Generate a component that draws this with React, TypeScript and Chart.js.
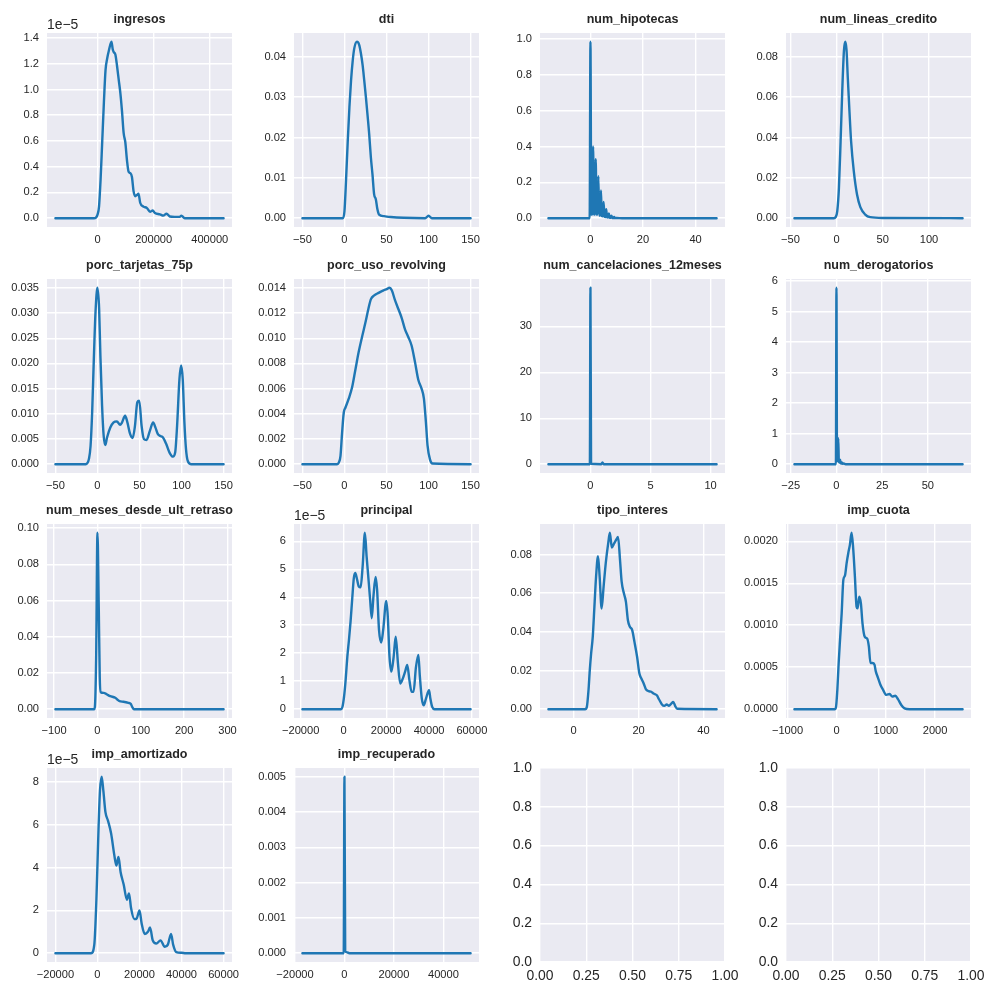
import React, { useEffect, useRef } from "react";
import { Chart, registerables } from "chart.js";

Chart.register(...registerables);

const FONT = "'Liberation Sans', Arial, Helvetica, sans-serif";
const TEXT = "#262626";
const LINE = "#1f77b4";
const BG = "#eaeaf2";

// ---------- data (KDE curves) ----------
const ingresosX = [-150600, -13000, -6000, 0, 5000, 10600, 16500, 22400, 28200, 34100, 40000, 49400, 54000, 57600, 63500, 69400, 75000, 81200, 87000, 92900, 98800, 104700, 110600, 116500, 122400, 128200, 134100, 140000, 145900, 151800, 163500, 175300, 187100, 196500, 204700, 222400, 234100, 245900, 257600, 275300, 292900, 298800, 310600, 449400];
const ingresosY = [0, 0, 0.005, 0.03, 0.09, 0.3, 0.6, 0.9, 1.15, 1.24, 1.3, 1.37, 1.31, 1.29, 1.27, 1.18, 1.08, 0.97, 0.83, 0.66, 0.59, 0.45, 0.36, 0.35, 0.32, 0.21, 0.17, 0.18, 0.19, 0.12, 0.09, 0.08, 0.05, 0.06, 0.04, 0.03, 0.02, 0.035, 0.013, 0.01, 0.01, 0.02, 0, 0];

const dtiX = [-50, -2, 0, 2, 3.9, 5.9, 7.8, 9.8, 11.8, 14.9, 17.6, 19.6, 21.6, 23.5, 25.5, 27.5, 29.4, 31.4, 33.3, 35.3, 37.3, 39.2, 41.2, 47, 55, 70.6, 96, 100, 104, 150];
const dtiY = [0, 0, 0.0017, 0.01, 0.019, 0.0275, 0.034, 0.039, 0.0422, 0.0437, 0.0429, 0.0408, 0.0379, 0.0342, 0.03, 0.0254, 0.0209, 0.0151, 0.0109, 0.0059, 0.0047, 0.0022, 0.0009, 0.0005, 0.0003, 0.0001, 0, 0.0006, 0, 0];

const hipotecasX = [-16, -0.3, 0, 0.3, 0.7, 1, 1.3, 1.7, 2, 2.3, 2.7, 3, 3.3, 3.7, 4, 4.3, 4.7, 5, 5.3, 5.7, 6, 6.3, 6.7, 7, 7.3, 7.7, 8, 8.3, 8.7, 9, 9.3, 10, 12, 48];
const hipotecasY = [0, 0, 0.985, 0.02, 0.02, 0.4, 0.025, 0.02, 0.33, 0.02, 0.02, 0.235, 0.015, 0.015, 0.155, 0.012, 0.01, 0.09, 0.008, 0.007, 0.05, 0.005, 0.004, 0.027, 0.003, 0.002, 0.014, 0.002, 0.001, 0.007, 0.001, 0.001, 0, 0];

const lineasX = [-45.7, -2.9, -1.1, 0.7, 2.5, 4.3, 6.1, 7.9, 9.3, 10.7, 12.1, 13.9, 15.7, 18.6, 22.1, 25.7, 31, 36.4, 50.7, 136.4];
const lineasY = [0, 0, 0.0005, 0.0035, 0.015, 0.038, 0.063, 0.0828, 0.0874, 0.0836, 0.0696, 0.053, 0.038, 0.0233, 0.0117, 0.0055, 0.0018, 0.0005, 0.0001, 0];

const tarjetasX = [-50, -14, -12.1, -10.2, -8.2, -6.3, -4.3, -2.3, 0, 2, 3.5, 5.5, 7.4, 9.4, 11.4, 15.3, 19.2, 23.1, 27, 29, 32.9, 35.6, 38.8, 41.9, 44.6, 47.4, 49.7, 52.5, 55.2, 58.3, 62.3, 66.2, 68.9, 71.7, 74.8, 77.9, 81.8, 85.7, 89.7, 92.4, 94.7, 97.5, 99.5, 101.4, 103.4, 105.3, 107.3, 111.2, 150];
const tarjetasY = [0, 0, 0.0002, 0.001, 0.0036, 0.0103, 0.0209, 0.0302, 0.035, 0.0308, 0.0215, 0.0116, 0.0056, 0.0038, 0.0053, 0.0073, 0.0083, 0.0085, 0.0078, 0.0082, 0.0096, 0.0083, 0.006, 0.0052, 0.0076, 0.0123, 0.0126, 0.0076, 0.005, 0.0048, 0.0066, 0.0083, 0.0073, 0.006, 0.0056, 0.0053, 0.004, 0.0023, 0.0015, 0.0023, 0.0076, 0.0169, 0.0196, 0.0169, 0.0083, 0.003, 0.0007, 0, 0];

const revolvingX = [-50, -8.7, -6.7, -4.7, -2.8, -0.8, 1.2, 5.1, 9.1, 13, 16.9, 20.9, 24.8, 28.7, 31.5, 35.4, 40.6, 46.5, 50.4, 53.5, 56.3, 60.2, 64.2, 68.1, 72, 75.9, 79.9, 83.9, 87.8, 91.7, 94.5, 96.9, 98.8, 101.6, 104.7, 150];
const revolvingY = [0, 0, 0.00013, 0.00066, 0.0025, 0.0041, 0.0045, 0.0052, 0.0061, 0.0075, 0.0089, 0.0101, 0.0112, 0.0124, 0.0131, 0.0134, 0.0136, 0.0138, 0.0139, 0.014, 0.0138, 0.013, 0.0123, 0.0116, 0.0107, 0.0101, 0.0094, 0.0081, 0.0067, 0.006, 0.0052, 0.0033, 0.0015, 0.0004, 0.00005, 0];

const cancelacionesX = [-3.5, -0.05, 0, 0.05, 0.9, 1, 1.1, 10.5];
const cancelacionesY = [0, 0, 38.4, 0.1, 0, 0.4, 0, 0];

const derogatoriosX = [-23, -0.3, 0, 0.3, 0.7, 1, 1.3, 1.7, 2, 2.3, 2.7, 3, 3.4, 4, 5, 69];
const derogatoriosY = [0, 0, 5.78, 0.1, 0.1, 0.85, 0.08, 0.05, 0.15, 0.03, 0.02, 0.06, 0.01, 0.02, 0, 0];

const retrasoX = [-97, -7.6, -6, -3, 0, 3, 5.3, 7.6, 14.4, 22, 29.6, 41, 46.3, 50.9, 60, 71.4, 76.7, 80.5, 84.3, 291];
const retrasoY = [0, 0, 0.0011, 0.0287, 0.0974, 0.0564, 0.0177, 0.0094, 0.009, 0.0081, 0.0072, 0.0063, 0.0052, 0.0044, 0.0041, 0.0035, 0.003, 0.0011, 0, 0];

const principalX = [-19200, -1300, -500, 250, 1000, 1800, 2550, 3300, 4050, 4830, 5500, 6350, 7100, 8000, 8950, 10000, 10800, 11700, 12450, 13200, 14000, 15000, 15700, 16600, 17650, 18550, 20000, 20700, 21500, 22400, 23450, 24400, 25450, 26500, 27750, 28800, 29800, 30800, 31850, 32750, 33850, 35000, 35700, 36600, 37500, 38550, 40000, 40600, 41450, 42550, 59400];
const principalY = [0, 0, 0.08, 0.44, 1.04, 1.88, 2.47, 3.13, 3.91, 4.68, 4.87, 4.63, 4.39, 4.35, 5.1, 6.3, 5.46, 4.63, 3.91, 3.25, 4.03, 4.72, 4.27, 2.83, 2.38, 2.83, 3.87, 3.31, 1.88, 1.34, 1.88, 2.59, 1.64, 0.92, 1.1, 1.34, 1.58, 1.04, 0.62, 0.62, 1.49, 1.94, 1.16, 0.38, 0.14, 0.38, 0.68, 0.38, 0.08, 0, 0];

const interesX = [-7.8, 3.5, 4.05, 4.56, 4.96, 5.37, 5.87, 6.38, 6.89, 7.49, 8.0, 8.61, 9.21, 9.92, 10.63, 11.14, 11.75, 12.46, 13.16, 13.67, 14.28, 14.78, 15.49, 16.1, 16.71, 17.32, 18.03, 18.73, 19.54, 20.25, 20.86, 21.57, 22.28, 23.09, 23.9, 24.61, 25.62, 26.33, 27.14, 27.95, 28.66, 29.37, 30.08, 30.68, 31.29, 31.9, 44.05];
const interesY = [0, 0, 0.0012, 0.0098, 0.0202, 0.0288, 0.0374, 0.0529, 0.0684, 0.0791, 0.0684, 0.0521, 0.0633, 0.0762, 0.0857, 0.0912, 0.0836, 0.0857, 0.0878, 0.0891, 0.0771, 0.0659, 0.0598, 0.0555, 0.046, 0.0426, 0.0409, 0.0348, 0.0271, 0.0184, 0.0159, 0.0133, 0.0102, 0.0093, 0.009, 0.0081, 0.0072, 0.005, 0.0026, 0.0017, 0.0024, 0.0017, 0.0029, 0.0038, 0.0016, 0.0002, 0];

const cuotaX = [-860, -34, -13, 13, 40, 67, 101, 135, 168, 202, 236, 269, 303, 337, 370, 404, 424, 458, 492, 525, 572, 620, 653, 687, 727, 768, 795, 842, 889, 943, 1010, 1077, 1131, 1192, 1246, 1313, 1380, 1481, 2560];
const cuotaY = [0, 0, 0.00003, 0.00023, 0.00055, 0.00082, 0.00114, 0.00154, 0.00159, 0.00174, 0.00186, 0.00196, 0.0021, 0.0019, 0.00158, 0.00122, 0.0012, 0.00134, 0.00126, 0.00102, 0.00086, 0.00084, 0.00075, 0.00055, 0.00055, 0.00053, 0.00045, 0.00037, 0.00029, 0.00023, 0.00017, 0.00018, 0.00015, 0.00016, 0.00012, 0.00005, 0.00001, 0, 0];

const amortizadoX = [-20000, -3000, -1500, -500, 500, 1200, 2000, 2800, 3800, 5000, 6500, 8000, 9000, 10000, 11000, 12500, 14000, 15000, 16000, 17500, 18500, 20000, 21000, 22500, 24000, 25000, 26300, 28000, 30000, 32000, 33500, 35000, 36000, 37500, 40000, 42000, 60000];
const amortizadoY = [0, 0, 0.4, 2.5, 5.8, 7.6, 8.25, 7.6, 6.6, 6.2, 5.6, 4.6, 4.1, 4.5, 3.8, 3.2, 2.5, 2.8, 2.1, 1.6, 1.6, 2.0, 1.4, 0.9, 1.0, 1.2, 0.6, 0.45, 0.6, 0.3, 0.4, 0.9, 0.4, 0.05, 0.02, 0, 0];

const recuperadoX = [-17000, -300, 0, 300, 800, 2000, 51000];
const recuperadoY = [0, 0, 0.005, 0.00006, 0.00003, 0, 0];

// ---------- tick values ----------
const ticksXIngresos = [0, 200000, 400000];
const ticksYIngresos = [0, 0.2, 0.4, 0.6, 0.8, 1.0, 1.2, 1.4];
const ticksXDti = [-50, 0, 50, 100, 150];
const ticksYDti = [0, 0.01, 0.02, 0.03, 0.04];
const ticksXHipotecas = [0, 20, 40];
const ticksYHipotecas = [0, 0.2, 0.4, 0.6, 0.8, 1.0];
const ticksXLineas = [-50, 0, 50, 100];
const ticksYLineas = [0, 0.02, 0.04, 0.06, 0.08];
const ticksXPorc = [-50, 0, 50, 100, 150];
const ticksYTarjetas = [0, 0.005, 0.01, 0.015, 0.02, 0.025, 0.03, 0.035];
const ticksYRevolving = [0, 0.002, 0.004, 0.006, 0.008, 0.01, 0.012, 0.014];
const ticksXCancel = [0, 5, 10];
const ticksYCancel = [0, 10, 20, 30];
const ticksXDerog = [-25, 0, 25, 50];
const ticksYDerog = [0, 1, 2, 3, 4, 5, 6];
const ticksXRetraso = [-100, 0, 100, 200, 300];
const ticksYRetraso = [0, 0.02, 0.04, 0.06, 0.08, 0.1];
const ticksXPrincipal = [-20000, 0, 20000, 40000, 60000];
const ticksYPrincipal = [0, 1, 2, 3, 4, 5, 6];
const ticksXInteres = [0, 20, 40];
const ticksYInteres = [0, 0.02, 0.04, 0.06, 0.08];
const ticksXCuota = [-1000, 0, 1000, 2000];
const ticksYCuota = [0, 0.0005, 0.001, 0.0015, 0.002];
const ticksXAmort = [-20000, 0, 20000, 40000, 60000];
const ticksYAmort = [0, 2, 4, 6, 8];
const ticksXRecup = [-20000, 0, 20000, 40000];
const ticksYRecup = [0, 0.001, 0.002, 0.003, 0.004, 0.005];
const ticksXEmpty = [0, 0.25, 0.5, 0.75, 1];
const ticksYEmpty = [0, 0.2, 0.4, 0.6, 0.8, 1.0];

type Panel = {
  title: string;
  xs: number[];
  ys: number[];
  xTicks: number[];
  xDec: number;
  yTicks: number[];
  yDec: number;
  offset?: string;
  empty?: boolean;
};

const panels: Panel[] = [
  { title: "ingresos", xs: ingresosX, ys: ingresosY, xTicks: ticksXIngresos, xDec: 0, yTicks: ticksYIngresos, yDec: 1, offset: "1e\u22125" },
  { title: "dti", xs: dtiX, ys: dtiY, xTicks: ticksXDti, xDec: 0, yTicks: ticksYDti, yDec: 2 },
  { title: "num_hipotecas", xs: hipotecasX, ys: hipotecasY, xTicks: ticksXHipotecas, xDec: 0, yTicks: ticksYHipotecas, yDec: 1 },
  { title: "num_lineas_credito", xs: lineasX, ys: lineasY, xTicks: ticksXLineas, xDec: 0, yTicks: ticksYLineas, yDec: 2 },
  { title: "porc_tarjetas_75p", xs: tarjetasX, ys: tarjetasY, xTicks: ticksXPorc, xDec: 0, yTicks: ticksYTarjetas, yDec: 3 },
  { title: "porc_uso_revolving", xs: revolvingX, ys: revolvingY, xTicks: ticksXPorc, xDec: 0, yTicks: ticksYRevolving, yDec: 3 },
  { title: "num_cancelaciones_12meses", xs: cancelacionesX, ys: cancelacionesY, xTicks: ticksXCancel, xDec: 0, yTicks: ticksYCancel, yDec: 0 },
  { title: "num_derogatorios", xs: derogatoriosX, ys: derogatoriosY, xTicks: ticksXDerog, xDec: 0, yTicks: ticksYDerog, yDec: 0 },
  { title: "num_meses_desde_ult_retraso", xs: retrasoX, ys: retrasoY, xTicks: ticksXRetraso, xDec: 0, yTicks: ticksYRetraso, yDec: 2 },
  { title: "principal", xs: principalX, ys: principalY, xTicks: ticksXPrincipal, xDec: 0, yTicks: ticksYPrincipal, yDec: 0, offset: "1e\u22125" },
  { title: "tipo_interes", xs: interesX, ys: interesY, xTicks: ticksXInteres, xDec: 0, yTicks: ticksYInteres, yDec: 2 },
  { title: "imp_cuota", xs: cuotaX, ys: cuotaY, xTicks: ticksXCuota, xDec: 0, yTicks: ticksYCuota, yDec: 4 },
  { title: "imp_amortizado", xs: amortizadoX, ys: amortizadoY, xTicks: ticksXAmort, xDec: 0, yTicks: ticksYAmort, yDec: 0, offset: "1e\u22125" },
  { title: "imp_recuperado", xs: recuperadoX, ys: recuperadoY, xTicks: ticksXRecup, xDec: 0, yTicks: ticksYRecup, yDec: 3 },
  { title: "", xs: [], ys: [], xTicks: ticksXEmpty, xDec: 2, yTicks: ticksYEmpty, yDec: 1, empty: true },
  { title: "", xs: [], ys: [], xTicks: ticksXEmpty, xDec: 2, yTicks: ticksYEmpty, yDec: 1, empty: true },
];

// ---------- layout ----------
const COL_LEFT = [47, 294, 540, 786];
const ROW_TOP = [33, 279, 524, 768];
const PLOT_W = 185;
const PLOT_H = 194;
const Y_W = 47;
const R_PAD = 30;
const T_H = 33;
const X_H = 25;
const CANVAS_W = Y_W + PLOT_W + R_PAD;
const CANVAS_H = T_H + PLOT_H + X_H;

function fmt(v: number, d: number): string {
  const s = Math.abs(v).toFixed(d);
  return (v < -1e-12 ? "\u2212" : "") + s;
}

function PanelChart({ p, left, top }: { p: Panel; left: number; top: number }) {
  const ref = useRef<HTMLCanvasElement | null>(null);

  useEffect(() => {
    const canvas = ref.current;
    if (!canvas) return;
    let xMin = 0, xMax = 1, yMin = 0, yMax = 1;
    if (!p.empty) {
      const x0 = Math.min(...p.xs);
      const x1 = Math.max(...p.xs);
      const y0 = Math.min(0, ...p.ys);
      const y1 = Math.max(...p.ys);
      const dx = (x1 - x0) * 0.05;
      const dy = (y1 - y0) * 0.05;
      xMin = x0 - dx;
      xMax = x1 + dx;
      yMin = y0 - dy;
      yMax = y1 + dy;
    }
    const tickSize = p.empty ? 13.9 : 11.1;

    const decor = {
      id: "decor",
      beforeDraw(chart: any) {
        const { ctx, chartArea } = chart;
        ctx.save();
        ctx.fillStyle = BG;
        ctx.fillRect(chartArea.left, chartArea.top, chartArea.right - chartArea.left, chartArea.bottom - chartArea.top);
        ctx.restore();
      },
      afterDraw(chart: any) {
        const { ctx, chartArea } = chart;
        ctx.save();
        if (p.title) {
          ctx.font = `bold 12.5px ${FONT}`;
          ctx.fillStyle = TEXT;
          ctx.textAlign = "center";
          ctx.textBaseline = "alphabetic";
          ctx.fillText(p.title, (chartArea.left + chartArea.right) / 2, chartArea.top - 9.7);
        }
        if (p.offset) {
          ctx.font = `13.9px ${FONT}`;
          ctx.fillStyle = TEXT;
          ctx.textAlign = "left";
          ctx.textBaseline = "alphabetic";
          ctx.fillText(p.offset, chartArea.left, chartArea.top - 3.7);
        }
        ctx.restore();
      },
    };

    const chart = new Chart(canvas, {
      type: "line",
      data: {
        datasets: p.empty
          ? []
          : [
              {
                data: p.xs.map((x, i) => ({ x, y: p.ys[i] })),
                borderColor: LINE,
                backgroundColor: LINE,
                borderWidth: 2.4,
                pointRadius: 0,
                cubicInterpolationMode: "monotone",
                borderJoinStyle: "round",
                borderCapStyle: "round",
                fill: false,
              },
            ],
      },
      options: {
        responsive: false,
        animation: false,
        events: [],
        layout: { padding: { left: 0, right: R_PAD, top: T_H, bottom: 0 } },
        plugins: {
          legend: { display: false },
          tooltip: { enabled: false },
          title: { display: false },
        },
        scales: {
          x: {
            type: "linear",
            min: xMin,
            max: xMax,
            grid: { color: "#ffffff", lineWidth: 1.4, drawTicks: false, tickLength: 0 },
            border: { display: false },
            ticks: {
              color: TEXT,
              font: { family: FONT, size: tickSize },
              padding: 6,
              maxRotation: 0,
              minRotation: 0,
              autoSkip: false,
              callback: (v: any) => fmt(Number(v), p.xDec),
            },
            afterBuildTicks: (s: any) => {
              s.ticks = p.xTicks.map((v) => ({ value: v }));
            },
            afterFit: (s: any) => {
              s.height = X_H;
              s.paddingLeft = 0;
              s.paddingRight = 0;
              s.paddingTop = 0;
              s.paddingBottom = 0;
            },
          },
          y: {
            type: "linear",
            min: yMin,
            max: yMax,
            grid: { color: "#ffffff", lineWidth: 1.4, drawTicks: false, tickLength: 0 },
            border: { display: false },
            ticks: {
              color: TEXT,
              font: { family: FONT, size: tickSize },
              padding: 8,
              autoSkip: false,
              callback: (v: any) => fmt(Number(v), p.yDec),
            },
            afterBuildTicks: (s: any) => {
              s.ticks = p.yTicks.map((v) => ({ value: v }));
            },
            afterFit: (s: any) => {
              s.width = Y_W;
              s.paddingLeft = 0;
              s.paddingRight = 0;
              s.paddingTop = 0;
              s.paddingBottom = 0;
            },
          },
        },
      } as any,
      plugins: [decor],
    } as any);

    return () => {
      chart.destroy();
    };
  }, [p]);

  return (
    <canvas
      ref={ref}
      width={CANVAS_W}
      height={CANVAS_H}
      style={{ position: "absolute", left, top, width: CANVAS_W, height: CANVAS_H }}
    />
  );
}

export default function App() {
  return (
    <div
      style={{
        position: "absolute",
        left: 0,
        top: 0,
        width: 1000,
        height: 1000,
        overflow: "hidden",
        background: "#ffffff",
      }}
    >
      {panels.map((p, i) => {
        const r = Math.floor(i / 4);
        const c = i % 4;
        return (
          <PanelChart
            key={i}
            p={p}
            left={COL_LEFT[c] - Y_W}
            top={ROW_TOP[r] - T_H}
          />
        );
      })}
    </div>
  );
}
